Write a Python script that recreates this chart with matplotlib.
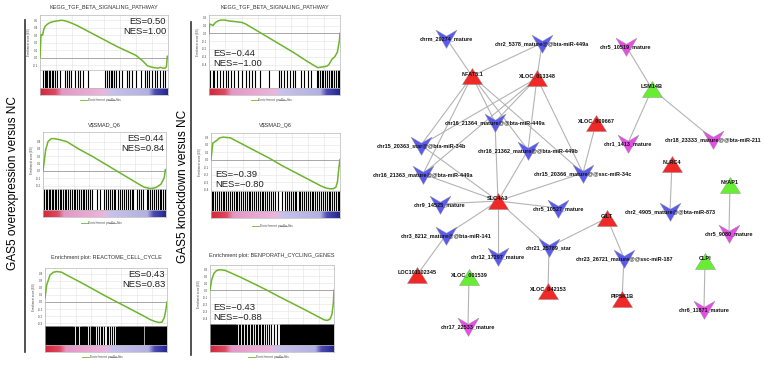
import numpy as np
import matplotlib.pyplot as plt
from matplotlib.path import Path
from matplotlib.lines import Line2D
from matplotlib.colors import LinearSegmentedColormap

plt.rcParams['font.family'] = ['Liberation Sans', 'DejaVu Sans']

W, H = 764, 367

# ---------------- GSEA data ----------------
titles = ["KEGG_TGF_BETA_SIGNALING_PATHWAY", "KEGG_TGF_BETA_SIGNALING_PATHWAY",
          r"V\$SMAD_Q6", r"V\$SMAD_Q6",
          "Enrichment plot: REACTOME_CELL_CYCLE",
          "Enrichment plot: BENPORATH_CYCLING_GENES"]
es_vals = ["0.50", "\u22120.44", "0.44", "\u22120.39", "0.43", "\u22120.43"]
nes_vals = ["1.00", "\u22121.00", "0.84", "\u22120.80", "0.83", "\u22120.88"]
side_labels = ["GAS5 overexpression versus NC", "GAS5 knockdown versus NC"]

# running enrichment score: rank position (% of list) and ES
rank_1 = [0, 0.8, 2, 3, 4, 6, 8, 10, 13, 17, 20, 25, 30, 40, 50, 60, 70, 75, 80, 84, 88, 92, 94, 96, 98, 98.8, 99.5, 100]
es_1 = [0.0, 0.31, 0.30, 0.38, 0.42, 0.45, 0.47, 0.48, 0.49, 0.50, 0.49, 0.46, 0.42, 0.33, 0.24, 0.15, 0.07, 0.03, -0.04, -0.11, -0.13, -0.14, -0.13, -0.14, -0.14, -0.12, 0.02, 0.0]
rank_2 = [0, 0.5, 2, 3, 5, 7, 9, 12, 15, 20, 25, 28, 35, 45, 55, 65, 75, 80, 83, 87, 90, 91.5, 94, 96, 98, 99.5, 100]
es_2 = [0.0, 0.12, 0.11, 0.10, 0.14, 0.16, 0.17, 0.17, 0.16, 0.15, 0.14, 0.12, 0.05, -0.05, -0.15, -0.25, -0.36, -0.41, -0.44, -0.43, -0.42, -0.40, -0.33, -0.30, -0.24, -0.10, 0.0]
rank_3 = [0, 2.2, 4.1, 6.8, 9, 12.3, 19.2, 30, 40, 50, 60, 70, 78, 82.2, 87.7, 91.8, 95.9, 98.6, 99.5, 100]
es_3 = [0.0, 0.29, 0.40, 0.44, 0.44, 0.43, 0.40, 0.29, 0.20, 0.10, 0.0, -0.10, -0.18, -0.22, -0.24, -0.225, -0.18, -0.09, 0.02, 0.0]
rank_4 = [0, 1.4, 4, 6.8, 9.5, 15, 25, 35, 45, 55, 65, 75, 85, 89, 92, 94.6, 96.8, 98, 99.2, 100]
es_4 = [0.0, 0.22, 0.25, 0.29, 0.30, 0.29, 0.20, 0.11, 0.02, -0.08, -0.17, -0.26, -0.35, -0.38, -0.39, -0.39, -0.37, -0.30, -0.10, 0.0]
rank_5 = [0, 1.4, 4.1, 6.8, 9.6, 13.7, 17.8, 30, 40, 50, 58.9, 70, 80, 86.3, 90, 93.2, 95.9, 97.8, 99, 100]
es_5 = [0.06, 0.24, 0.38, 0.42, 0.43, 0.42, 0.38, 0.27, 0.175, 0.08, 0.0, -0.10, -0.19, -0.25, -0.275, -0.29, -0.285, -0.22, -0.12, 0.0]
rank_6 = [0, 1.4, 3.2, 5.4, 8.1, 12.2, 16.2, 25, 35, 45.9, 55, 65, 75.7, 86.5, 91.9, 94.6, 96.8, 98.4, 99.5, 100]
es_6 = [0.0, 0.15, 0.24, 0.28, 0.29, 0.28, 0.25, 0.18, 0.095, 0.0, -0.085, -0.175, -0.27, -0.37, -0.42, -0.43, -0.41, -0.34, -0.18, 0.0]

# gene-set hits (% of ranked list)
hits_1 = [2.6, 3.7, 4.7, 5.5, 6.8, 7.9, 9.2, 10.5, 11.8, 13.2, 15.3, 19.7, 21.0, 22.6, 24.2, 27.6, 29.5, 31.0,
          33.7, 37.4, 50.5, 52.6, 54.0, 55.3, 56.6, 57.9, 59.7, 61.8, 63.7, 67.9, 69.7, 71.6, 75.0, 78.9,
          82.4, 83.7, 85.5, 87.4, 89.5, 91.6, 93.4, 95.8, 97.4]
hits_2 = [1.1, 2.7, 4.0, 5.9, 8.6, 10.7, 12.6, 14.4, 17.1, 19.3, 21.9, 25.1, 28.6, 30.5, 32.6, 35.3, 39.3, 46.0,
          53.5, 55.3, 57.5, 59.4, 61.5, 63.9, 66.0, 70.1, 72.7, 75.4, 78.1, 82.1, 83.4, 84.8, 86.1, 87.4,
          88.8, 90.1, 91.4, 92.8, 94.1, 95.5, 96.8, 98.1, 99.5]
hits_3 = [1.2, 2.4, 3.3, 4.6, 5.8, 7.0, 8.1, 9.6, 10.8, 12.0, 13.7, 15.0, 16.2, 17.9, 19.0, 20.5, 22.3, 23.6,
          25.1, 26.4, 28.0, 29.3, 30.9, 32.4, 33.6, 35.2, 36.9, 38.3, 39.6, 43.8, 46.7, 49.8, 51.2, 52.9,
          54.3, 55.7, 57.4, 58.8, 60.6, 62.8, 64.1, 65.9, 67.3, 68.8, 70.4, 72.0, 73.5, 76.6, 78.1, 79.7,
          81.5, 84.2, 85.6, 87.0, 88.6, 90.3, 91.7, 93.1, 94.8, 96.2, 97.7, 99.0]
hits_4 = [0.7, 1.9, 3.4, 4.8, 6.1, 7.7, 9.0, 10.4, 11.9, 13.2, 14.8, 16.1, 17.5, 19.2, 20.4, 21.8, 23.5, 24.9,
          26.1, 27.7, 29.2, 30.5, 32.1, 33.4, 34.9, 36.3, 37.8, 39.4, 40.6, 42.2, 43.5, 45.1, 46.6, 48.0,
          49.5, 52.3, 54.8, 57.6, 59.0, 60.3, 61.9, 63.4, 64.8, 66.2, 67.9, 69.1, 70.7, 72.2, 73.6, 75.0,
          76.7, 78.1, 79.4, 80.9, 82.5, 83.8, 85.3, 86.7, 88.2, 89.6, 91.1, 92.5, 94.0, 95.4, 96.9, 98.3, 99.4]
hits_5 = [22.8, 23.6, 25.0, 26.4, 27.3, 28.6, 29.8, 31.0, 33.9, 34.8, 36.1, 37.5, 39.0, 40.4, 41.3, 43.0,
          44.2, 45.6, 47.0, 48.3, 50.9, 52.0, 53.6, 55.2, 56.8, 58.0, 59.1]
hits_6 = [20.6, 21.8, 23.0, 24.3, 25.6, 26.5, 27.9, 29.2, 30.4, 31.6, 33.0, 34.2, 35.5, 36.9, 38.0, 39.3,
          40.7, 41.9, 43.1, 44.6, 45.8, 47.2, 49.0, 51.5, 54.0, 56.3]
# dense runs of hits: (start %, width %)
blocks_5 = [(0, 22), (30, 3.2), (38, 1.5), (59.5, 8.3), (68.6, 12), (81.8, 18.2)]
blocks_6 = [(0, 20), (57.5, 6.5), (64.8, 4), (69.5, 6.5), (76.8, 5.5), (83, 17)]

ranks = [rank_1, rank_2, rank_3, rank_4, rank_5, rank_6]
scores = [es_1, es_2, es_3, es_4, es_5, es_6]
hits = [hits_1, hits_2, hits_3, hits_4, hits_5, hits_6]
blocks = [[], [], [], [], blocks_5, blocks_6]

# ---------------- network data ----------------
mrna_red = ["NFAT5.1", "XLOC_013348", "XLOC_009667", "NLRC4", "SLC4A3", "GILT",
            "LOC101102345", "XLOC_042153", "PIP5K1B"]
mrna_green = ["LSM14B", "NYAP1", "CLPI", "XLOC_001539"]
mirna_blue = ["chrm_29274_mature", "chr2_5378_mature@@bta-miR-449a", "chr16_21364_mature@@bta-miR-449a",
              "chr15_20363_star@@bta-miR-34b", "chr16_21362_mature@@bta-miR-449b",
              "chr15_20366_mature@@ssc-miR-34c", "chr16_21363_mature@@bta-miR-449a", "chr9_14525_mature",
              "chr5_10527_mature", "chr2_4905_mature@@bta-miR-873", "chr3_8212_mature@@bta-miR-141",
              "chr21_25789_star", "chr12_17297_mature", "chr23_26721_mature@@ssc-miR-187"]
mirna_magenta = ["chr5_10519_mature", "chr1_1413_mature", "chr18_23333_mature@@bta-miR-211",
                 "chr5_9080_mature", "chr6_11871_mature", "chr17_22533_mature"]
edges = [
    ("NFAT5.1", "chrm_29274_mature"), ("NFAT5.1", "chr2_5378_mature@@bta-miR-449a"),
    ("NFAT5.1", "chr16_21364_mature@@bta-miR-449a"), ("NFAT5.1", "chr16_21362_mature@@bta-miR-449b"),
    ("NFAT5.1", "chr15_20363_star@@bta-miR-34b"), ("NFAT5.1", "chr16_21363_mature@@bta-miR-449a"),
    ("NFAT5.1", "chr15_20366_mature@@ssc-miR-34c"),
    ("XLOC_013348", "chr2_5378_mature@@bta-miR-449a"), ("XLOC_013348", "chr16_21364_mature@@bta-miR-449a"),
    ("XLOC_013348", "chr16_21362_mature@@bta-miR-449b"), ("XLOC_013348", "chr15_20363_star@@bta-miR-34b"),
    ("XLOC_013348", "chr16_21363_mature@@bta-miR-449a"), ("XLOC_013348", "chr15_20366_mature@@ssc-miR-34c"),
    ("SLC4A3", "chr16_21364_mature@@bta-miR-449a"), ("SLC4A3", "chr16_21362_mature@@bta-miR-449b"),
    ("SLC4A3", "chr15_20363_star@@bta-miR-34b"), ("SLC4A3", "chr16_21363_mature@@bta-miR-449a"),
    ("SLC4A3", "chr15_20366_mature@@ssc-miR-34c"), ("SLC4A3", "chr9_14525_mature"),
    ("SLC4A3", "chr5_10527_mature"), ("SLC4A3", "chr3_8212_mature@@bta-miR-141"),
    ("SLC4A3", "chr12_17297_mature"), ("SLC4A3", "chr21_25789_star"),
    ("XLOC_009667", "chr15_20366_mature@@ssc-miR-34c"),
    ("LOC101102345", "chr3_8212_mature@@bta-miR-141"),
    ("XLOC_001539", "chr17_22533_mature"),
    ("XLOC_042153", "chr21_25789_star"),
    ("GILT", "chr21_25789_star"), ("GILT", "chr23_26721_mature@@ssc-miR-187"),
    ("PIP5K1B", "chr23_26721_mature@@ssc-miR-187"),
    ("LSM14B", "chr5_10519_mature"), ("LSM14B", "chr1_1413_mature"),
    ("LSM14B", "chr18_23333_mature@@bta-miR-211"),
    ("NLRC4", "chr2_4905_mature@@bta-miR-873"),
    ("NYAP1", "chr5_9080_mature"),
    ("CLPI", "chr6_11871_mature"),
]

# network layout (pixel-like layout units)
layout = {
    "chrm_29274_mature": (446, 38), "chr2_5378_mature@@bta-miR-449a": (542, 43),
    "chr5_10519_mature": (626, 46), "NFAT5.1": (472, 76), "XLOC_013348": (537, 78),
    "LSM14B": (652, 89), "chr16_21364_mature@@bta-miR-449a": (495, 122), "XLOC_009667": (596, 123),
    "chr18_23333_mature@@bta-miR-211": (713, 139), "chr1_1413_mature": (628, 143),
    "chr15_20363_star@@bta-miR-34b": (421, 145), "chr16_21362_mature@@bta-miR-449b": (528, 150),
    "NLRC4": (672, 164), "chr15_20366_mature@@ssc-miR-34c": (583, 173),
    "chr16_21363_mature@@bta-miR-449a": (423, 174), "NYAP1": (730, 185), "SLC4A3": (498, 201),
    "chr9_14525_mature": (440, 204), "chr5_10527_mature": (558, 208),
    "chr2_4905_mature@@bta-miR-873": (670, 211), "GILT": (607, 218), "chr5_9080_mature": (729, 233),
    "chr3_8212_mature@@bta-miR-141": (446, 235), "chr21_25789_star": (549, 247),
    "chr12_17297_mature": (498, 256), "chr23_26721_mature@@ssc-miR-187": (624, 258),
    "CLPI": (705, 261), "LOC101102345": (417, 275), "XLOC_001539": (469, 277),
    "XLOC_042153": (548, 291), "PIP5K1B": (622, 299), "chr6_11871_mature": (704, 309),
    "chr17_22533_mature": (468, 326),
}

# ---------------- figure ----------------
fig = plt.figure(figsize=(W / 100, H / 100), dpi=100)


def add_ax(x0, y0, x1, y1):
    return fig.add_axes([x0 / W, 1 - y1 / H, (x1 - x0) / W, (y1 - y0) / H])


def fig_line(xs, ys, **kw):
    fig.add_artist(Line2D([x / W for x in xs], [1 - y / H for y in ys],
                          transform=fig.transFigure, **kw))


# panel boxes: x0, x1, top, curve bottom, hits bottom, colour bar bottom, title y, legend y
boxes = [(40, 168, 15, 70, 88, 95, 7, 100),
         (209, 340, 15, 70, 88, 95, 7, 100),
         (43, 166, 132, 189, 210, 217, 125, 223),
         (211, 340, 133, 191, 211, 218, 125, 226),
         (45, 167, 268, 326, 345, 352, 258, 357),
         (210, 334, 265, 324, 345, 352, 255, 357)]
ylims = [(-0.165, 0.57), (-0.47, 0.235), (-0.245, 0.53), (-0.42, 0.355), (-0.34, 0.48), (-0.48, 0.357)]
yticks = [[-0.1, 0.0, 0.1, 0.2, 0.3, 0.4, 0.5],
          [-0.4, -0.3, -0.2, -0.1, 0.0, 0.1, 0.2],
          [-0.2, -0.1, 0.0, 0.1, 0.2, 0.3, 0.4],
          [-0.4, -0.3, -0.2, -0.1, 0.0, 0.1, 0.2, 0.3],
          [-0.3, -0.2, -0.1, 0.0, 0.1, 0.2, 0.3, 0.4],
          [-0.4, -0.3, -0.2, -0.1, 0.0, 0.1, 0.2, 0.3]]

rank_cmap = LinearSegmentedColormap.from_list(
    "rank", [(0, "#d3263a"), (0.12, "#dd4a62"), (0.17, "#e596c4"), (0.5, "#ebb6dc"),
             (0.55, "#c6c2ec"), (0.85, "#b2b0e2"), (0.9, "#4c4cb4"), (1, "#262690")])
green = "#6cb52d"
grey_spine = "#b8b8b8"

for i in range(6):
    x0, x1, top, cb, hb, bb, ty, ly = boxes[i]
    # running ES
    ax = add_ax(x0, top, x1, cb)
    ax.plot(ranks[i], scores[i], color=green, lw=1.1, zorder=3)
    ax.axhline(0, color="#9c9c9c", lw=0.6, zorder=2)
    ax.set_xlim(0, 100)
    ax.set_ylim(*ylims[i])
    ax.set_xticks(np.arange(0, 101, 12.5))
    ax.set_yticks(yticks[i])
    ax.set_yticklabels([f"{v:.1f}" for v in yticks[i]], fontsize=2.2, color="#444444")
    ax.tick_params(axis="x", labelbottom=False, length=0)
    ax.tick_params(axis="y", length=0, pad=1.5)
    ax.grid(True, color="#e4e4e4", lw=0.4)
    ax.set_ylabel("Enrichment score (ES)", fontsize=2.0, labelpad=1.5, color="#444444")
    for s in ax.spines.values():
        s.set_color(grey_spine)
        s.set_linewidth(0.5)
    txt = f"ES={es_vals[i]}\nNES={nes_vals[i]}"
    if es_vals[i].startswith("\u2212"):
        ax.text(0.03, 0.03, txt, transform=ax.transAxes, ha="left", va="bottom",
                fontsize=6.8, linespacing=1.15, color="#222222")
    else:
        ax.text(0.985, 0.97, txt, transform=ax.transAxes, ha="right", va="top",
                fontsize=6.8, linespacing=1.15, color="#222222")

    # hits barcode
    bx = add_ax(x0, cb, x1, hb)
    bx.vlines(hits[i], 0, 1, color="black", lw=0.8)
    if blocks[i]:
        bx.broken_barh(blocks[i], (0, 1), color="black")
    bx.set_xlim(0, 100)
    bx.set_ylim(0, 1)
    bx.set_xticks([])
    bx.set_yticks([])
    for s in bx.spines.values():
        s.set_color(grey_spine)
        s.set_linewidth(0.5)

    # ranked list colour bar
    cx = add_ax(x0, hb, x1, bb)
    cx.imshow(np.linspace(0, 1, 256)[None, :], aspect="auto", cmap=rank_cmap, extent=(0, 100, 0, 1))
    cx.set_xticks([])
    cx.set_yticks([])
    for s in cx.spines.values():
        s.set_color(grey_spine)
        s.set_linewidth(0.5)

    # title and legend
    xc = (x0 + x1) / 2
    fig.text(xc / W, 1 - ty / H, titles[i], ha="center", va="center", fontsize=4, color="#333333")
    lx = xc - 24
    fig_line([lx, lx + 7], [ly, ly], color=green, lw=0.6)
    fig.text((lx + 8) / W, 1 - ly / H, "Enrichment profile", fontsize=2.4, va="center", color="#555555")
    fig_line([lx + 28, lx + 35], [ly, ly], color="#999999", lw=0.6)
    fig.text((lx + 36) / W, 1 - ly / H, "Hits", fontsize=2.4, va="center", color="#555555")

# side labels and separators
fig.text(13 / W, 1 - 183 / H, side_labels[0], rotation=90, ha="center", va="center", fontsize=8.6)
fig.text(183 / W, 1 - 186 / H, side_labels[1], rotation=90, ha="center", va="center", fontsize=8.6)
fig_line([25, 25], [20, 352], color="#333333", lw=1.2)
fig_line([191, 191], [22, 355], color="#333333", lw=1.2)

# ---------------- network ----------------
nx = add_ax(365, 0, 764, 367)
nx.set_xlim(365, 764)
nx.set_ylim(367, 0)
nx.axis("off")

tri = Path([(-1, -0.8), (1, -0.8), (0, 0.8), (-1, -0.8)],
           [Path.MOVETO, Path.LINETO, Path.LINETO, Path.CLOSEPOLY])
vee = Path([(-1, 0.8), (0, 0.22), (1, 0.8), (0, -0.95), (-1, 0.8)],
           [Path.MOVETO, Path.LINETO, Path.LINETO, Path.LINETO, Path.CLOSEPOLY])

for a, b in edges:
    (xa, ya), (xb, yb) = layout[a], layout[b]
    nx.plot([xa, xb], [ya, yb], color="#b4b4b4", lw=0.8, zorder=1)

groups = [(mrna_red, tri, "#f02828", 14.5, -2), (mrna_green, tri, "#66ee33", 14.5, -2),
          (mirna_blue, vee, "#5a5af0", 15, 1), (mirna_magenta, vee, "#e84ce8", 15, 1)]
for names, marker, color, ms, dy in groups:
    xs = [layout[n][0] for n in names]
    ys = [layout[n][1] for n in names]
    nx.plot(xs, ys, ls="none", marker=marker, ms=ms, mfc=color, mec="#909090", mew=0.3, zorder=3)
    for n, x, y in zip(names, xs, ys):
        nx.text(x, y + dy, n, fontsize=4.0, fontweight="bold", ha="center", va="center",
                color="#111111", zorder=4)

fig.savefig("out.png", dpi=100)
